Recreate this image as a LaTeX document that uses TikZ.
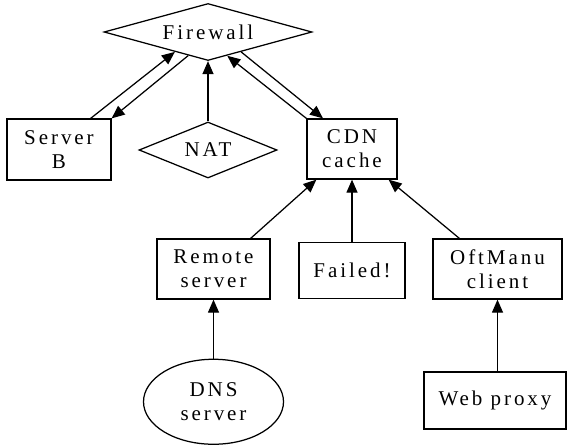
\documentclass[tikz,border=0pt]{standalone}
\usepackage{fontspec}
\setmainfont{Liberation Serif}[LetterSpace=14]
\usetikzlibrary{arrows.meta, positioning, shapes.geometric}

\begin{document}
\begin{tikzpicture}[x=1pt, y=-1pt, line width=1.25pt, >={Triangle[length=13pt, width=11pt]},
    every node/.style={font=\fontsize{21}{24}\selectfont, align=center}]
    \tikzstyle{box} = [rectangle, draw, inner sep=0pt, minimum height=60pt]
    \tikzstyle{gate} = [diamond, draw, inner sep=0pt]
    \useasboundingbox (0,0) rectangle (567,445);

    % top row
    \node[gate, minimum width=208pt, minimum height=57pt, aspect=3.65] (fw) at (208,32) {Firewall};
    \node[box, minimum width=104pt, minimum height=61pt] (srvb) at (59,149.5) {Server\\B};
    \node[gate, minimum width=138pt, minimum height=56pt, aspect=2.46] (nat) at (208,150) {NAT};
    \node[box, minimum width=90pt] (cdn) at (352,149) {CDN\\cache};

    % sources feeding the cache
    \node[box, minimum width=113pt] (remote) at (213.5,269) {Remote\\server};
    \node[box, minimum width=106pt, minimum height=56pt, below=62pt of cdn] (failed) {Failed!};
    \node[box, minimum width=129pt] (oftmanu) at (497.5,269) {OftManu\\client};
    \node[ellipse, draw, inner sep=0pt, minimum width=140pt, minimum height=85pt, below=59pt of remote] (dns) {DNS\\server};
    \node[box, minimum width=142pt, minimum height=57pt] (webproxy) at (495,400.5) {Web proxy};

    \draw[->] ([xshift=-21pt]srvb.north east) -- (fw.-149);
    \draw[->] (fw.-130) -- (srvb.north east);
    \draw[->] (nat) -- (fw);
    \draw[->] (cdn.north west) -- (fw.-51);
    \draw[->] (fw.-31) -- ([xshift=-29pt]cdn.north);
    \draw[->] ([xshift=-20pt]remote.north east) -- ([xshift=10pt]cdn.south west);
    \draw[->] (failed) -- (cdn);
    \draw[->] ([xshift=27pt]oftmanu.north west) -- ([xshift=-9pt]cdn.south east);
    \draw[->] (dns) -- (remote);
    \draw[->] (webproxy.north -| oftmanu) -- (oftmanu);
\end{tikzpicture}
\end{document}
